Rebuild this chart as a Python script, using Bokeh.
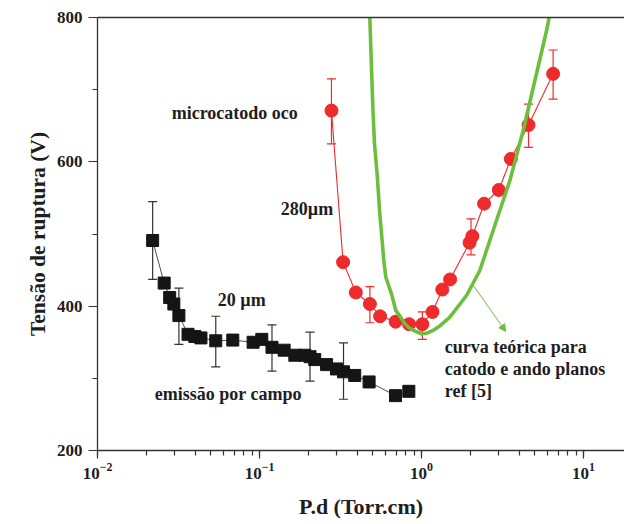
from bokeh.plotting import figure
from bokeh.models import (ColumnDataSource, Whisker, TeeHead, Label, Arrow, NormalHead,
                          FixedTicker, LinearAxis, Range1d, Title)
from bokeh.embed import file_html
from bokeh.resources import INLINE

# --- field emission (20 um), black squares ---
fe_pd = [0.0219, 0.0258, 0.0279, 0.0296, 0.0318, 0.0362, 0.0399, 0.0435, 0.0537,
         0.0684, 0.0913, 0.1033, 0.1194, 0.1419, 0.1652, 0.1906, 0.205, 0.2193,
         0.2594, 0.2985, 0.330, 0.387, 0.4747, 0.691, 0.835]
fe_v = [491, 432, 412, 403, 387, 361, 358, 356, 352,
        353, 350, 354, 343, 339, 332, 332, 330, 326,
        319, 313, 309, 304, 295, 276, 282]
fe_err_pd = [0.0219, 0.0318, 0.0537, 0.1194, 0.205, 0.330]
fe_err_v = [491, 386, 351, 342, 330, 310]
fe_err = [54, 39, 35, 32, 34, 39]

# --- hollow microcathode (280 um), red circles ---
hc_pd = [0.278, 0.328, 0.393, 0.480, 0.555, 0.692, 0.838, 1.012, 1.169, 1.343,
         1.501, 1.98, 2.06, 2.434, 3.00, 3.557, 4.576, 6.49]
hc_v = [671, 461, 419, 403, 386, 378.5, 375, 375, 392, 423,
        437, 488, 497, 542, 561, 604, 651, 722]
hc_err_pd = [0.278, 0.480, 1.012, 2.02, 4.576, 6.49]
hc_err_v = [670, 402, 373, 496, 650, 721]
hc_err = [45, 25, 19, 25, 30, 34]

# --- theoretical curve (plane cathode/anode), green ---
th_pd = [0.4797, 0.4864, 0.4933, 0.5025, 0.5127, 0.532, 0.5528, 0.5852, 0.6019,
         0.6528, 0.694, 0.742, 0.7886, 0.847, 0.9313, 1.0, 1.08, 1.179, 1.32,
         1.495, 1.896, 2.29, 2.767, 3.51, 4.24, 5.006, 5.91, 6.135]
th_v = [800, 758.5, 717, 666.3, 624.8, 583.3, 527.9, 463.3, 440.1,
        417.1, 394, 384.8, 375.6, 369.1, 364.5, 361.8, 362.5, 366.4, 374,
        384.8, 414.8, 449.4, 504.8, 574, 643.2, 712.4, 781.6, 800]

y_ticks = [200, 400, 600, 800]
y_minor = [300, 500, 700]

FONT = "'Liberation Serif', 'Times New Roman', serif"
AX = "#333333"
RED = "#ee2a2a"
GREEN = "#6cbf3c"
TXT = "#1e1e1e"

p = figure(width=624, height=522, x_axis_type="log",
           x_range=Range1d(0.01, 17.9), y_range=Range1d(200, 800),
           output_backend="svg", toolbar_location=None,
           min_border_left=97, min_border_right=0, min_border_top=17,
           min_border_bottom=72)
p.outline_line_color = None
p.grid.visible = False
p.background_fill_color = "white"

for ax in (p.xaxis[0], p.yaxis[0]):
    ax.axis_line_color = AX
    ax.axis_line_width = 1.3
    ax.major_tick_line_color = AX
    ax.minor_tick_line_color = AX
    ax.major_tick_line_width = 1.2
    ax.minor_tick_line_width = 1.2
    ax.major_tick_in = 0
    ax.minor_tick_in = 0
    ax.major_label_text_font = FONT
    ax.major_label_text_font_style = "bold"
    ax.major_label_text_font_size = "17px"
    ax.major_label_text_color = TXT
    ax.axis_label_text_font = FONT
    ax.axis_label_text_font_style = "bold"
    ax.axis_label_text_font_size = "22px"
    ax.axis_label_text_color = TXT

p.xaxis.major_tick_out = 8
p.xaxis.minor_tick_out = 5
p.xaxis.major_label_standoff = 4
p.xaxis.axis_label = "P.d (Torr.cm)"
p.xaxis.axis_label_standoff = 12

p.yaxis.ticker = FixedTicker(ticks=y_ticks, minor_ticks=y_minor)
p.yaxis.major_tick_out = 9
p.yaxis.minor_tick_out = 5
p.yaxis.major_label_standoff = 6

top = LinearAxis(ticker=FixedTicker(ticks=[]), axis_line_color=AX, axis_line_width=1.3,
                 major_tick_out=0, minor_tick_out=0, major_label_text_font_size="0px")
p.add_layout(top, "above")

# invisible spacer between the y axis and its title
spacer = LinearAxis(ticker=FixedTicker(ticks=[]), axis_line_color=None,
                    major_tick_out=13, minor_tick_out=0, major_tick_line_color=None,
                    major_label_text_font_size="0px")
p.add_layout(spacer, "left")

# y axis title, shifted a little below centre as in the original figure
p.add_layout(Title(text="Tensão de ruptura (V)", align="center", offset=-18,
                   standoff=8, text_font=FONT,
                   text_font_style="bold", text_font_size="21.5px",
                   text_color=TXT), "left")

# field emission
p.line(fe_pd, fe_v, line_color="#222222", line_width=0.8)
fe_err_src = ColumnDataSource(dict(x=fe_err_pd,
                                   lo=[v - e for v, e in zip(fe_err_v, fe_err)],
                                   hi=[v + e for v, e in zip(fe_err_v, fe_err)]))
p.add_layout(Whisker(source=fe_err_src, base="x", lower="lo", upper="hi",
                     line_color="#333333", line_width=1.2,
                     lower_head=TeeHead(size=9, line_color="#333333", line_width=1.2),
                     upper_head=TeeHead(size=9, line_color="#333333", line_width=1.2)))
p.scatter(fe_pd, fe_v, marker="square", size=12, fill_color="#151515",
          line_color="#151515")

# hollow cathode
p.line(hc_pd, hc_v, line_color=RED, line_width=1.1)
hc_err_src = ColumnDataSource(dict(x=hc_err_pd,
                                   lo=[v - e for v, e in zip(hc_err_v, hc_err)],
                                   hi=[v + e for v, e in zip(hc_err_v, hc_err)]))
p.add_layout(Whisker(source=hc_err_src, base="x", lower="lo", upper="hi",
                     line_color=RED, line_width=1.2,
                     lower_head=TeeHead(size=9, line_color=RED, line_width=1.2),
                     upper_head=TeeHead(size=9, line_color=RED, line_width=1.2)))
p.scatter(hc_pd, hc_v, marker="circle", size=13, fill_color=RED, line_color=RED)

# theory
p.line(th_pd, th_v, line_color=GREEN, line_width=3.6, line_join="round")

p.add_layout(Arrow(x_start=2.10, y_start=428, x_end=3.31, y_end=365,
                   line_color=GREEN, line_width=1,
                   end=NormalHead(size=7, fill_color=GREEN, line_color=GREEN)))

def lab(x, y, t):
    p.add_layout(Label(x=x, y=y, text=t, text_font=FONT, text_font_style="bold",
                       text_font_size="18px", text_color=TXT,
                       text_baseline="middle", text_align="left"))

lab(0.0287, 668, "microcatodo oco")
lab(0.1353, 535, "280µm")
lab(0.0553, 408, "20 µm")
lab(0.0226, 278, "emissão por campo")
lab(1.393, 344, "curva teórica para")
lab(1.393, 312.5, "catodo e ando planos")
lab(1.393, 283, "ref [5]")

open("out.html", "w").write(file_html(p, INLINE))
